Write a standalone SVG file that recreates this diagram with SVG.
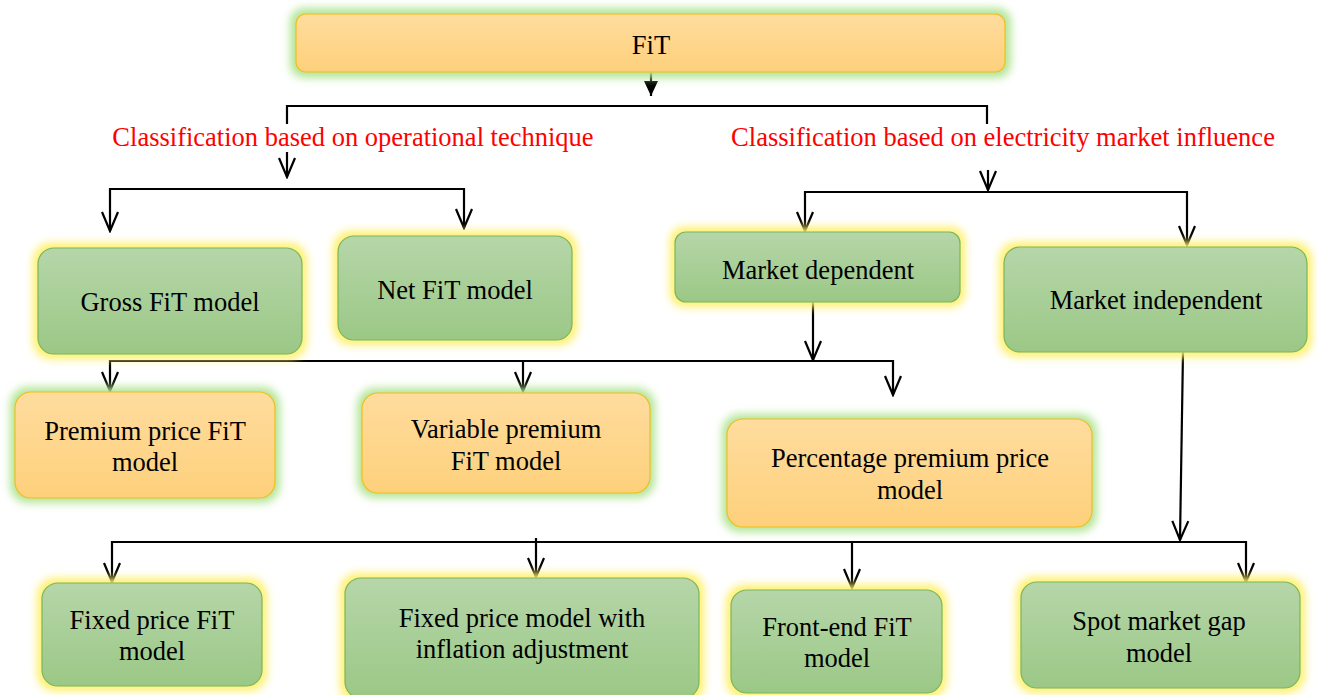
<svg xmlns="http://www.w3.org/2000/svg" width="1317" height="695" viewBox="0 0 1317 695">
<style>
.t{font-family:"Liberation Serif","Times New Roman",serif;font-size:26.5px;fill:#000;text-anchor:middle}
.r{font-family:"Liberation Serif","Times New Roman",serif;font-size:26.5px;fill:#ff0000;text-anchor:middle}
.g{fill:url(#gg);stroke:#7ab55e;stroke-width:1.2}
.o{fill:url(#og);stroke:#f2be1a;stroke-width:1.2}
.gy{fill:#fff06a;filter:url(#bl)}
.gg{fill:#b3e597;filter:url(#bl)}
.c{fill:none;stroke:#000;stroke-width:2.2}
.a{marker-end:url(#ah)}
</style>
<defs>
<linearGradient id="gg" x1="0" y1="0" x2="0" y2="1"><stop offset="0" stop-color="#b6d6a9"/><stop offset="1" stop-color="#9bc886"/></linearGradient>
<linearGradient id="og" x1="0" y1="0" x2="0" y2="1"><stop offset="0" stop-color="#ffdc9e"/><stop offset="1" stop-color="#fdd07b"/></linearGradient>
<filter id="bl" x="-20%" y="-30%" width="140%" height="160%"><feGaussianBlur stdDeviation="4"/></filter>
<marker id="ah" markerUnits="userSpaceOnUse" viewBox="-20 -10 22 20" refX="0" refY="0" markerWidth="22" markerHeight="20" orient="auto">
<path d="M-19,-8 L0,0 L-19,8" fill="none" stroke="#000" stroke-width="2.2"/>
</marker>
<marker id="fh" markerUnits="userSpaceOnUse" viewBox="-16 -8 18 16" refX="0" refY="0" markerWidth="18" markerHeight="16" orient="auto">
<path d="M-15,-7 L0,0 L-15,7 Z" fill="#000"/>
</marker>
</defs>

<g id="connectors">
<path class="c" d="M651,73 V96" marker-end="url(#fh)"/>
<path class="c" d="M287,124 V106 H987 V124"/>
<path class="c a" d="M287,152 V177"/>
<path class="c" d="M110,214 V189 H464 V214"/>
<path class="c a" d="M110,214 V231"/>
<path class="c a" d="M464,214 V228"/>
<path class="c a" d="M988,170 V190"/>
<path class="c" d="M805,214 V192 H1187 V214"/>
<path class="c a" d="M805,214 V231"/>
<path class="c a" d="M1187,214 V245"/>
<path class="c a" d="M813,302 V360"/>
<path class="c" d="M110,372 V361 H893 V372"/>
<path class="c a" d="M110,372 V391"/>
<path class="c a" d="M523,361 V391"/>
<path class="c a" d="M893,372 V395"/>
<path class="c a" d="M1183,352 L1180,540"/>
<path class="c" d="M112,560 V542 H1246 V560"/>
<path class="c a" d="M112,560 V582"/>
<path class="c a" d="M536,538 V577"/>
<path class="c a" d="M852,542 V588"/>
<path class="c a" d="M1246,560 V582"/>
</g>

<g id="n-fit">
<rect class="gg" x="290" y="8" width="721" height="70" rx="14"/>
<rect class="o" x="296" y="14" width="709" height="58" rx="10"/>
<text class="t" x="651" y="54">FiT</text>
</g>

<g id="label-left"><text class="r" x="353" y="146">Classification based on operational technique</text></g>
<g id="label-right"><text class="r" x="1003" y="146">Classification based on electricity market influence</text></g>

<g id="n-gross">
<rect class="gy" x="33" y="243" width="274" height="116" rx="18"/>
<rect class="g" x="38" y="248" width="264" height="106" rx="16"/>
<text class="t" x="170" y="311">Gross FiT model</text>
</g>
<g id="n-net">
<rect class="gy" x="333" y="231" width="244" height="114" rx="18"/>
<rect class="g" x="338" y="236" width="234" height="104" rx="16"/>
<text class="t" x="455" y="299">Net FiT model</text>
</g>
<g id="n-mdep">
<rect class="gy" x="670" y="227" width="295" height="80" rx="14"/>
<rect class="g" x="675" y="232" width="285" height="70" rx="11"/>
<text class="t" x="818" y="279">Market dependent</text>
</g>
<g id="n-mind">
<rect class="gy" x="999" y="242" width="313" height="115" rx="18"/>
<rect class="g" x="1004" y="247" width="303" height="105" rx="16"/>
<text class="t" x="1156" y="309">Market independent</text>
</g>

<g id="n-premium">
<rect class="gg" x="10" y="387" width="270" height="116" rx="18"/>
<rect class="o" x="15" y="392" width="260" height="106" rx="16"/>
<text class="t" x="145" y="440">Premium price FiT</text>
<text class="t" x="145" y="471">model</text>
</g>
<g id="n-variable">
<rect class="gg" x="357" y="388" width="298" height="110" rx="18"/>
<rect class="o" x="362" y="393" width="288" height="100" rx="16"/>
<text class="t" x="506" y="438">Variable premium</text>
<text class="t" x="506" y="470">FiT model</text>
</g>
<g id="n-percentage">
<rect class="gg" x="722" y="414" width="375" height="118" rx="18"/>
<rect class="o" x="727" y="419" width="365" height="108" rx="16"/>
<text class="t" x="910" y="467">Percentage premium price</text>
<text class="t" x="910" y="499">model</text>
</g>

<g id="n-fixed">
<rect class="gy" x="37" y="578" width="230" height="113" rx="18"/>
<rect class="g" x="42" y="583" width="220" height="103" rx="16"/>
<text class="t" x="152" y="629">Fixed price FiT</text>
<text class="t" x="152" y="660">model</text>
</g>
<g id="n-inflation">
<rect class="gy" x="340" y="573" width="364" height="130" rx="18"/>
<rect class="g" x="345" y="578" width="354" height="120" rx="16"/>
<text class="t" x="522" y="627">Fixed price model with</text>
<text class="t" x="522" y="658">inflation adjustment</text>
</g>
<g id="n-frontend">
<rect class="gy" x="726" y="585" width="221" height="113" rx="18"/>
<rect class="g" x="731" y="590" width="211" height="103" rx="16"/>
<text class="t" x="837" y="636">Front-end FiT</text>
<text class="t" x="837" y="667">model</text>
</g>
<g id="n-spot">
<rect class="gy" x="1016" y="577" width="289" height="116" rx="18"/>
<rect class="g" x="1021" y="582" width="279" height="106" rx="16"/>
<text class="t" x="1159" y="630">Spot market gap</text>
<text class="t" x="1159" y="662">model</text>
</g>
</svg>
